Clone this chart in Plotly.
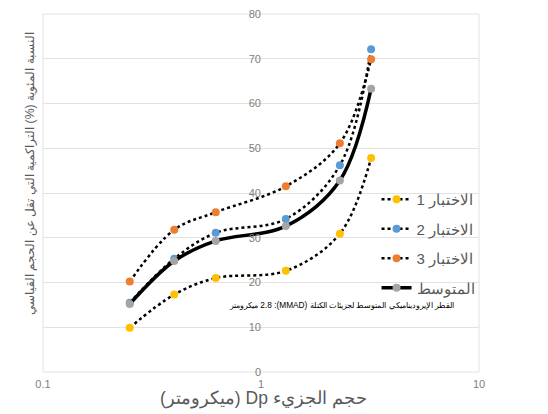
import plotly.graph_objects as go

RLE, PDF = "\u202b", "\u202c"

dp = [0.25, 0.4, 0.62, 1.3, 2.3, 3.2]
test1 = [9.9, 17.3, 21.0, 22.6, 30.9, 47.8]
test2 = [15.5, 25.3, 31.1, 34.2, 46.2, 72.1]
test3 = [20.2, 31.8, 35.7, 41.5, 51.1, 69.9]
average = [15.2, 24.8, 29.3, 32.6, 42.8, 63.3]

names = ["الاختبار 1", "الاختبار 2", "الاختبار 3", "المتوسط"]
colors = ["#FFC000", "#5B9BD5", "#ED7D31", "#A5A5A5"]
xticks = [0.1, 1, 10]
xticktext = ["0.1", "1", "10"]

x_title = "حجم الجزيء Dp (ميكرومتر)"
y_title = "النسبة المئوية (%) التراكمية التي تقل عن الحجم القياسي"
mmad_text = "القطر الإيروديناميكي المتوسط لجزيئات الكتلة (MMAD): 2.8 ميكرومتر"


def rtl(s):
    return RLE + s + PDF


fig = go.Figure()
for i, series in enumerate([test1, test2, test3]):
    fig.add_trace(go.Scatter(
        x=dp, y=series, name=rtl(names[i]), mode="lines+markers",
        line=dict(color="black", width=2.5, dash="dot", shape="spline", smoothing=1),
        marker=dict(color=colors[i], size=8),
        legendgroup=f"g{i}",
    ))
fig.add_trace(go.Scatter(
    x=dp, y=average, name=rtl(names[3]), mode="lines+markers",
    line=dict(color="black", width=3.5, shape="spline", smoothing=1),
    marker=dict(color=colors[3], size=8),
    legendgroup="g3",
))

fig.update_layout(
    width=540, height=406,
    margin=dict(l=35, r=69, t=6, b=42, autoexpand=False),
    paper_bgcolor="white", plot_bgcolor="white",
    font=dict(family="Liberation Sans, Arial, sans-serif", color="#595959"),
    xaxis=dict(type="log", range=[-1, 1], tickvals=xticks, ticktext=xticktext,
               showgrid=False, zeroline=False, showline=False, ticks="",
               ticklabelstandoff=4, ticklabeloverflow="allow",
               tickfont=dict(size=11, color="#808080")),
    yaxis=dict(range=[0, 80], dtick=10, anchor="free", position=0.5,
               showgrid=True, gridcolor="#e2e2e2", gridwidth=1, zeroline=False,
               showline=False, ticks="", ticklabeloverflow="allow",
               tickfont=dict(size=11, color="#808080")),
    legend=dict(x=0.765, y=0.528, xanchor="left", yanchor="top",
                bgcolor="rgba(0,0,0,0)", font=dict(size=15, color="#595959"),
                traceorder="grouped", tracegroupgap=7),
    showlegend=True,
)

fig.add_shape(type="rect", xref="paper", yref="paper", x0=0, x1=1, y0=0, y1=1,
              line=dict(color="#e2e2e2", width=1), layer="below")

fig.add_annotation(text=rtl(y_title), xref="paper", yref="paper", x=-0.03, y=0.553,
                   xanchor="center", yanchor="middle",
                   textangle=-90, showarrow=False, font=dict(size=12.3, color="#595959"))
fig.add_annotation(text=rtl(x_title), xref="paper", yref="paper", x=0.505, y=-0.073,
                   xanchor="center", yanchor="middle",
                   showarrow=False, font=dict(size=17.5, color="#595959"))
fig.add_annotation(text=rtl(mmad_text), xref="paper", yref="paper", x=0.684, y=0.187,
                   xanchor="center", yanchor="middle",
                   showarrow=False, font=dict(size=8.3, color="black"))

fig.write_html("out.html")
